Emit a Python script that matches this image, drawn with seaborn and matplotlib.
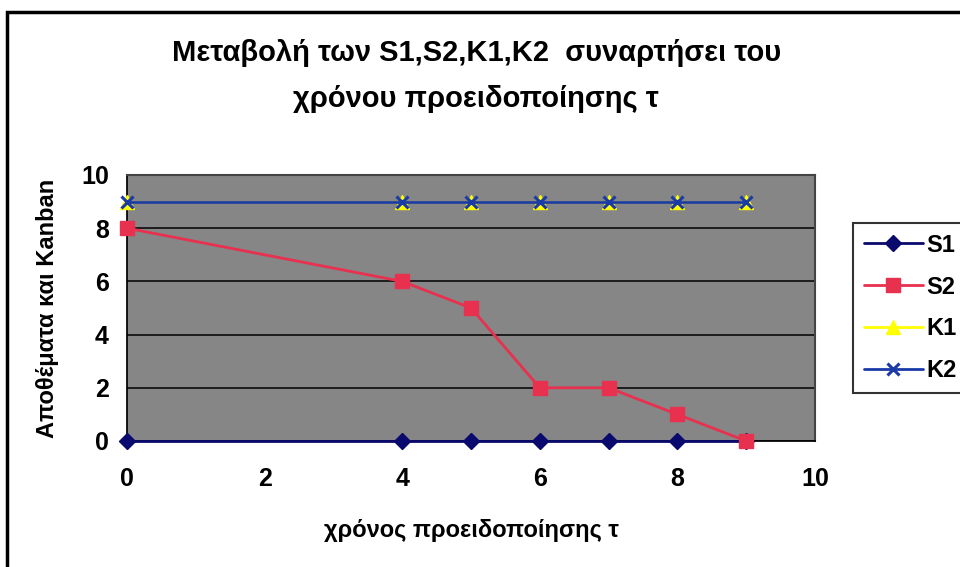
import matplotlib
matplotlib.use("Agg")
import matplotlib.pyplot as plt
import matplotlib.patches as mpatches
import seaborn as sns
import pandas as pd

# Warning time values and the four monitored quantities
t_values = [0, 4, 5, 6, 7, 8, 9]
s1_values = [0, 0, 0, 0, 0, 0, 0]
s2_values = [8, 6, 5, 2, 2, 1, 0]
k1_values = [9, 9, 9, 9, 9, 9, 9]
k2_values = [9, 9, 9, 9, 9, 9, 9]

series_names = ["S1", "S2", "K1", "K2"]
x_ticks = [0, 2, 4, 6, 8, 10]
y_ticks = [0, 2, 4, 6, 8, 10]

title_text = "Μεταβολή των S1,S2,K1,K2  συναρτήσει του\nχρόνου προειδοποίησης τ"
x_label = "χρόνος προειδοποίησης τ"
y_label = "Αποθέματα και Kanban"

sns.set_theme(style="white")
plt.rcParams["font.family"] = ["Liberation Sans", "DejaVu Sans"]
plt.rcParams["font.weight"] = "bold"
plt.rcParams["text.color"] = "black"
plt.rcParams["axes.labelcolor"] = "black"
plt.rcParams["xtick.color"] = "black"
plt.rcParams["ytick.color"] = "black"

df = pd.DataFrame({"t": t_values, "S1": s1_values, "S2": s2_values,
                   "K1": k1_values, "K2": k2_values})

fig = plt.figure(figsize=(9.6, 5.67), dpi=100)
fig.patch.set_facecolor("white")

# outer chart frame (runs off the right and bottom edges)
frame = mpatches.Rectangle((7 / 960, -0.05), 1.2, 1 - 12 / 567 + 0.05,
                           transform=fig.transFigure, fill=False,
                           edgecolor="black", linewidth=2.5, clip_on=False)
fig.add_artist(frame)

ax = fig.add_axes([127 / 960, 1 - 441 / 567, (815 - 127) / 960, (441 - 175) / 567])
ax.set_facecolor("#868686")

styles = {
    "S1": dict(color="#0a0a6e", marker="D", markersize=8, mec="#0a0a6e"),
    "S2": dict(color="#e8304f", marker="s", markersize=10, mec="#e8304f"),
    "K1": dict(color="#ffff00", marker="^", markersize=10, mec="#ffff00"),
    "K2": dict(color="#1a3aa8", marker="x", markersize=9, mew=2.2, mec="#1a3aa8"),
}

for name in series_names:
    st = styles[name]
    sns.lineplot(data=df, x="t", y=name, ax=ax, color=st["color"],
                 marker=st["marker"], markersize=st["markersize"],
                 markeredgecolor=st["mec"], markeredgewidth=st.get("mew", 1),
                 linewidth=2, label=name, clip_on=False, zorder=3)

ax.set_xlim(0, 10)
ax.set_ylim(0, 10)
ax.set_xticks(x_ticks)
ax.set_yticks(y_ticks)
ax.tick_params(axis="both", labelsize=18, direction="out", length=7,
               width=1, colors="black", pad=6)
for lab in ax.get_xticklabels() + ax.get_yticklabels():
    lab.set_fontweight("bold")
ax.tick_params(axis="x", pad=12)

# horizontal gridlines only
ax.yaxis.grid(True, color="black", linewidth=1.1)
ax.xaxis.grid(False)
ax.set_axisbelow(True)

for side in ["top", "right"]:
    ax.spines[side].set_color("#444444")
    ax.spines[side].set_linewidth(1.5)
ax.spines["left"].set_color("black")
ax.spines["bottom"].set_color("black")

ax.set_xlabel(x_label, fontsize=17, fontweight="bold", labelpad=20)
ax.set_ylabel(y_label, fontsize=17, fontweight="bold", labelpad=16)

fig.text(0.496, 1 - 76 / 567, title_text, ha="center", va="center",
         fontsize=21, fontweight="bold", linespacing=1.8)

leg = ax.legend(loc="upper left", bbox_to_anchor=(853 / 960, 1 - 223 / 567),
                bbox_transform=fig.transFigure, frameon=True, fancybox=False,
                fontsize=17, handlelength=2.5, handletextpad=0.15,
                labelspacing=0.8, borderpad=0.45, borderaxespad=0)
leg.get_frame().set_edgecolor("black")
leg.get_frame().set_linewidth(1.5)
for txt in leg.get_texts():
    txt.set_fontweight("bold")

fig.savefig("out.png", dpi=100)
